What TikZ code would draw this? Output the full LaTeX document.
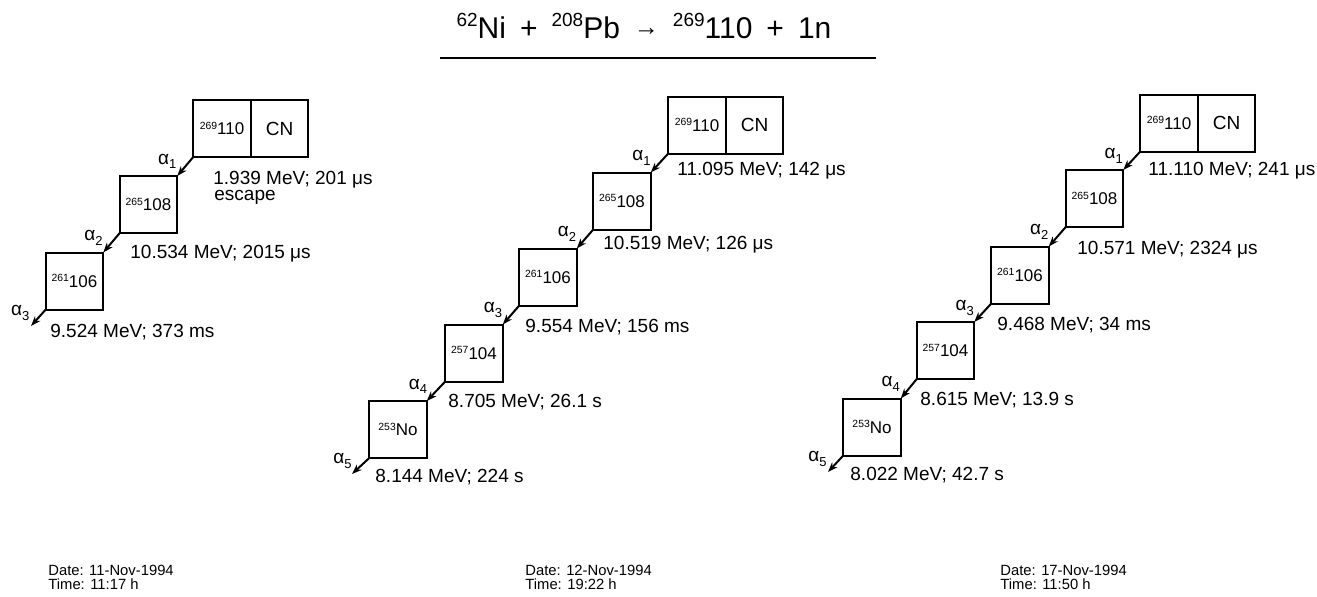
\documentclass[tikz,border=0pt]{standalone}
\usepackage{fontspec}
\setmainfont{Liberation Sans}
\usetikzlibrary{arrows.meta,positioning}
\newcommand{\nuc}[2]{{\fontsize{5.2}{5.2}\selectfont\raisebox{2.8pt}{#1}}#2}
\newcommand{\alp}[1]{α\raisebox{-2.2pt}{\fontsize{6.5}{6.5}\selectfont#1}}
\newcommand{\iso}[2]{{\fontsize{9.5}{9.5}\selectfont\raisebox{5.6pt}{#1}}#2}
\newcommand{\gap}{\hspace{7pt}}

\begin{document}
\begin{tikzpicture}[x=0.5pt,y=-0.5pt,>=Stealth,
  nb/.style={draw,line width=1pt,minimum width=28.75pt,minimum height=28.5pt,
    inner sep=0pt,outer sep=0pt,font=\fontsize{8.5}{9}\selectfont},
  cn/.style={nb,anchor=west,font=\fontsize{9.5}{10}\selectfont},
  en/.style={anchor=base west,inner sep=0pt,font=\fontsize{9.5}{10}\selectfont},
  al/.style={anchor=east,inner sep=0pt,xshift=-4pt,yshift=2.5pt,
    font=\fontsize{9.5}{10}\selectfont},
  dk/.style={-{Stealth[length=5pt,width=3.6pt]},line width=1pt},
  dt/.style={anchor=base west,inner sep=0pt,font=\fontsize{7.4}{8}\selectfont}]
\useasboundingbox (0,0) rectangle (1317,596);
\node[anchor=base,inner sep=0pt,font=\fontsize{15}{16}\selectfont] (title) at (644,38)
  {\iso{62}{Ni}\gap+\gap\iso{208}{Pb}\gap\raisebox{1.2pt}{\fontsize{12.5}{12.5}\selectfont→}\gap\iso{269}{110}\gap+\gap 1n};
\draw[line width=1pt] (440,58) -- (876,58);

\node[nb] (c1a) at (222,128.5) {\nuc{269}{110}};
\node[cn] (c1n) at (c1a.east) {CN};
\node[nb] (c1b) at (148.5,204.5) {\nuc{265}{108}};
\node[nb] (c1c) at (74.5,281) {\nuc{261}{106}};
\coordinate (c1z) at (31,326);
\draw[dk] (c1a.south west) -- node[al] {\alp1} (c1b.north east);
\draw[dk] (c1b.south west) -- node[al] {\alp2} (c1c.north east);
\draw[dk] (c1c.south west) -- node[al] {\alp3} (c1z);
\node[en] (e11) at (213,184) {1.939 MeV; 201 μs};
\node[en] (e1x) at (214,200) {escape};
\node[en] (e12) at (130,258) {10.534 MeV; 2015 μs};
\node[en] (e13) at (50,337) {9.524 MeV; 373 ms};

\node[nb] (c2a) at (697,125) {\nuc{269}{110}};
\node[cn] (c2n) at (c2a.east) {CN};
\node[nb] (c2b) at (622,201) {\nuc{265}{108}};
\node[nb] (c2c) at (548,277) {\nuc{261}{106}};
\node[nb] (c2d) at (474,353) {\nuc{257}{104}};
\node[nb] (c2e) at (398,429.5) {\nuc{253}{No}};
\coordinate (c2z) at (352,474);
\draw[dk] (c2a.south west) -- node[al] {\alp1} (c2b.north east);
\draw[dk] (c2b.south west) -- node[al] {\alp2} (c2c.north east);
\draw[dk] (c2c.south west) -- node[al] {\alp3} (c2d.north east);
\draw[dk] (c2d.south west) -- node[al] {\alp4} (c2e.north east);
\draw[dk] (c2e.south west) -- node[al] {\alp5} (c2z);
\node[en] (e21) at (677,175) {11.095 MeV; 142 μs};
\node[en] (e22) at (603,249) {10.519 MeV; 126 μs};
\node[en] (e23) at (525,332) {9.554 MeV; 156 ms};
\node[en] (e24) at (448,407) {8.705 MeV; 26.1 s};
\node[en] (e25) at (375,482) {8.144 MeV; 224 s};

\node[nb] (c3a) at (1169,123) {\nuc{269}{110}};
\node[cn] (c3n) at (c3a.east) {CN};
\node[nb] (c3b) at (1094.5,198.5) {\nuc{265}{108}};
\node[nb] (c3c) at (1020,275) {\nuc{261}{106}};
\node[nb] (c3d) at (945.5,350.5) {\nuc{257}{104}};
\node[nb] (c3e) at (872,427) {\nuc{253}{No}};
\coordinate (c3z) at (828,472);
\draw[dk] (c3a.south west) -- node[al] {\alp1} (c3b.north east);
\draw[dk] (c3b.south west) -- node[al] {\alp2} (c3c.north east);
\draw[dk] (c3c.south west) -- node[al] {\alp3} (c3d.north east);
\draw[dk] (c3d.south west) -- node[al] {\alp4} (c3e.north east);
\draw[dk] (c3e.south west) -- node[al] {\alp5} (c3z);
\node[en] (e31) at (1148,175) {11.110 MeV; 241 μs};
\node[en] (e32) at (1077,254) {10.571 MeV; 2324 μs};
\node[en] (e33) at (997,330) {9.468 MeV; 34 ms};
\node[en] (e34) at (920,405) {8.615 MeV; 13.9 s};
\node[en] (e35) at (850,480) {8.022 MeV; 42.7 s};

\node[dt] (d1) at (48,575) {Date: 11-Nov-1994};
\node[dt] (t1) at (48,589) {Time: 11:17 h};
\node[dt] (d2) at (525,575) {Date: 12-Nov-1994};
\node[dt] (t2) at (525,589) {Time: 19:22 h};
\node[dt] (d3) at (1000,575) {Date: 17-Nov-1994};
\node[dt] (t3) at (1000,589) {Time: 11:50 h};
\end{tikzpicture}
\end{document}
